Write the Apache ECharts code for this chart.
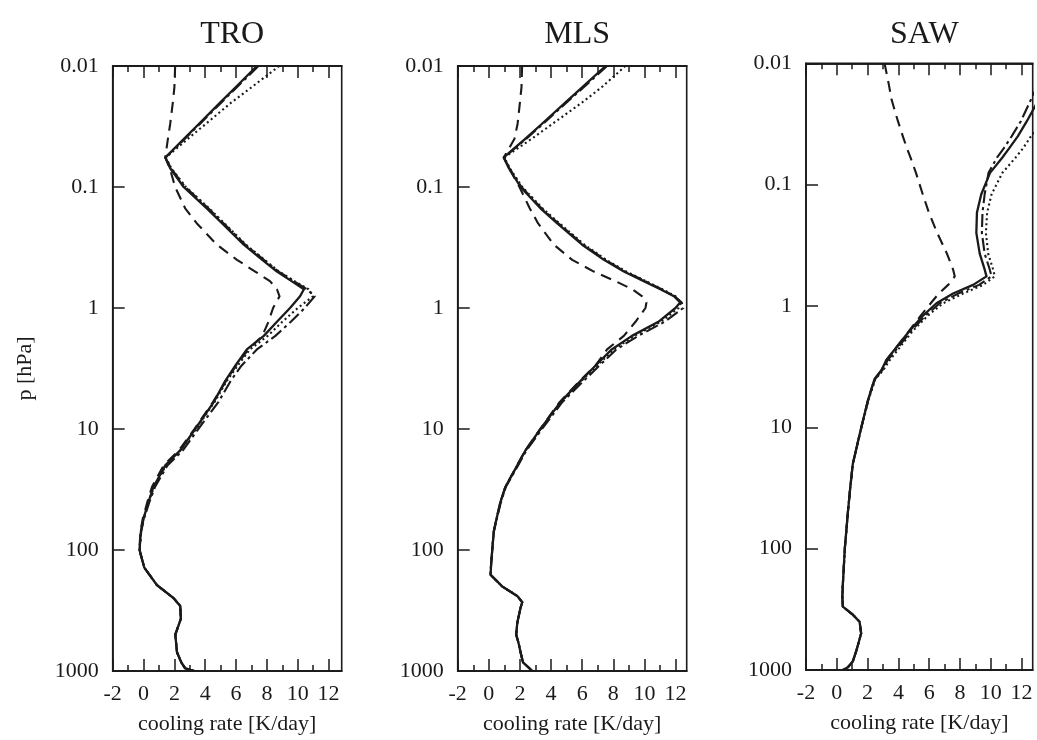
<!DOCTYPE html>
<html><head><meta charset="utf-8">
<script src="https://cdn.jsdelivr.net/npm/echarts@6/dist/echarts.min.js"></script>
<style>html,body{margin:0;padding:0;background:#fff}#c{width:1037px;height:740px}</style>
</head><body><div id="c"></div>
<script>
// ---------- data ----------
const panelNames = ['TRO', 'MLS', 'SAW'];
const xMajorTicks = [-2, 0, 2, 4, 6, 8, 10, 12];
const xMinorTicks = [-1, 1, 3, 5, 7, 9, 11];
const pTickLabels = [0.01, 0.1, 1, 10, 100, 1000];
const xTitle = 'cooling rate [K/day]';
const yTitle = 'p [hPa]';

// TRO
const P_TRO = [0.01, 0.015, 0.02, 0.03, 0.04, 0.057, 0.07, 0.1, 0.15, 0.2, 0.3, 0.4, 0.5, 0.6, 0.7, 0.8, 1, 1.3, 1.7, 2.2, 3, 4, 6, 10, 15, 20, 30, 40, 55, 70, 100, 140, 195, 250, 290, 370, 500, 700, 850, 950, 1000];
const TRO_solid   = [7.35, 5.97, 4.98, 3.6, 2.62, 1.41, 1.73, 2.6, 4.1, 5.1, 6.5, 7.7, 8.65, 9.6, 10.4, 10.15, 9.5, 8.65, 7.8, 6.7, 5.95, 5.3, 4.55, 3.35, 2.38, 1.41, 0.65, 0.32, 0.0, -0.17, -0.26, 0.05, 0.87, 1.95, 2.38, 2.42, 2.06, 2.17, 2.45, 2.7, 3.3];
const TRO_dotted  = [8.8, 7.0, 5.7, 4.05, 2.87, 1.45, 1.8, 2.75, 4.25, 5.25, 6.65, 7.85, 8.8, 9.8, 10.7, 11.0, 10.0, 9.0, 8.05, 6.9, 6.1, 5.4, 4.6, 3.4, 2.4, 1.45, 0.68, 0.33, 0.0, -0.17, -0.26, 0.05, 0.87, 1.95, 2.38, 2.42, 2.06, 2.17, 2.45, 2.7, 3.3];
const TRO_dashed  = [2.05, 2.0, 1.9, 1.73, 1.58, 1.41, 1.7, 2.05, 2.7, 3.46, 4.76, 6.06, 7.24, 8.2, 8.65, 8.82, 8.4, 8.1, 7.7, 6.8, 6.0, 5.35, 4.5, 3.3, 2.3, 1.3, 0.55, 0.25, -0.05, -0.2, -0.27, 0.05, 0.87, 1.95, 2.38, 2.42, 2.06, 2.17, 2.45, 2.7, 3.3];
const TRO_dashdot = [7.45, 6.05, 5.05, 3.67, 2.68, 1.42, 1.78, 2.7, 4.2, 5.2, 6.6, 7.8, 8.75, 9.75, 10.6, 11.1, 10.45, 9.55, 8.55, 7.35, 6.35, 5.65, 4.85, 3.55, 2.55, 1.55, 0.75, 0.38, 0.03, -0.15, -0.25, 0.05, 0.87, 1.95, 2.38, 2.42, 2.06, 2.17, 2.45, 2.7, 3.3];

// MLS
const P_MLS = [0.01, 0.015, 0.02, 0.03, 0.04, 0.057, 0.07, 0.1, 0.15, 0.2, 0.3, 0.4, 0.5, 0.6, 0.7, 0.8, 0.9, 1, 1.3, 1.7, 2.2, 3, 4, 6, 10, 15, 20, 30, 40, 55, 70, 100, 130, 160, 200, 240, 270, 300, 400, 500, 600, 700, 850, 1000];
const MLS_solid   = [7.5, 6.0, 4.93, 3.42, 2.34, 0.96, 1.29, 2.04, 3.32, 4.4, 6.0, 7.4, 8.68, 9.96, 11.03, 11.9, 12.3, 12.0, 10.9, 9.2, 7.9, 6.85, 5.9, 4.6, 3.32, 2.36, 1.83, 1.07, 0.75, 0.5, 0.32, 0.22, 0.15, 0.11, 0.86, 1.83, 2.15, 2.04, 1.83, 1.76, 1.93, 2.04, 2.2, 2.8];
const MLS_dotted  = [8.78, 7.25, 6.0, 4.1, 2.75, 1.0, 1.35, 2.15, 3.45, 4.55, 6.15, 7.55, 8.85, 10.1, 11.15, 12.0, 12.35, 12.2, 11.05, 9.35, 8.05, 6.95, 5.95, 4.62, 3.33, 2.36, 1.83, 1.07, 0.75, 0.5, 0.32, 0.22, 0.15, 0.11, 0.86, 1.83, 2.15, 2.04, 1.83, 1.76, 1.93, 2.04, 2.2, 2.8];
const MLS_dashed  = [2.14, 2.1, 2.0, 1.85, 1.65, 0.96, 1.3, 1.97, 2.63, 3.17, 4.18, 5.36, 6.75, 8.14, 9.22, 9.86, 10.13, 10.07, 9.43, 8.68, 7.6, 6.85, 5.85, 4.55, 3.3, 2.35, 1.82, 1.07, 0.75, 0.5, 0.32, 0.22, 0.15, 0.11, 0.86, 1.83, 2.15, 2.04, 1.83, 1.76, 1.93, 2.04, 2.2, 2.8];
const MLS_dashdot = [7.6, 6.1, 5.0, 3.5, 2.4, 0.98, 1.32, 2.1, 3.38, 4.48, 6.08, 7.48, 8.76, 10.05, 11.1, 11.95, 12.4, 12.5, 11.3, 9.6, 8.2, 7.1, 6.1, 4.72, 3.42, 2.42, 1.88, 1.1, 0.78, 0.52, 0.33, 0.22, 0.15, 0.11, 0.86, 1.83, 2.15, 2.04, 1.83, 1.76, 1.93, 2.04, 2.2, 2.8];

// SAW
const P_SAW = [0.01, 0.015, 0.02, 0.03, 0.04, 0.05, 0.06, 0.08, 0.12, 0.17, 0.25, 0.37, 0.5, 0.57, 0.67, 0.79, 0.95, 1.2, 1.6, 2.2, 2.8, 3.4, 4, 6, 10, 20, 30, 50, 100, 200, 250, 300, 350, 400, 500, 700, 850, 950, 1000];
const SAW_solid   = [14.4, 13.7, 13.1, 12.34, 11.75, 11.2, 10.74, 9.95, 9.38, 9.1, 9.06, 9.28, 9.6, 9.72, 8.85, 7.55, 6.47, 5.6, 4.73, 3.86, 3.21, 2.89, 2.45, 2.02, 1.59, 1.04, 0.89, 0.72, 0.52, 0.39, 0.36, 0.39, 1.04, 1.48, 1.58, 1.26, 1.04, 0.72, 0.39];
const SAW_dotted  = [16.0, 15.2, 14.5, 13.4, 12.6, 12.1, 11.6, 10.75, 10.05, 9.76, 9.68, 9.83, 10.15, 10.26, 9.5, 8.2, 6.9, 5.92, 4.94, 4.08, 3.43, 3.0, 2.5, 2.05, 1.6, 1.04, 0.89, 0.72, 0.52, 0.39, 0.36, 0.39, 1.04, 1.48, 1.58, 1.26, 1.04, 0.72, 0.39];
const SAW_dashed  = [3.1, 3.38, 3.56, 3.97, 4.29, 4.55, 4.79, 5.14, 5.58, 5.98, 6.52, 7.15, 7.55, 7.66, 7.23, 6.62, 6.1, 5.45, 4.7, 3.86, 3.21, 2.89, 2.45, 2.02, 1.59, 1.04, 0.89, 0.72, 0.52, 0.39, 0.36, 0.39, 1.04, 1.48, 1.58, 1.26, 1.04, 0.72, 0.39];
const SAW_dashdot = [13.9, 13.05, 12.6, 11.95, 11.35, 10.85, 10.4, 9.85, 9.6, 9.46, 9.42, 9.6, 9.93, 10.05, 9.24, 7.88, 6.68, 5.77, 4.84, 3.97, 3.3, 2.95, 2.48, 2.03, 1.6, 1.04, 0.89, 0.72, 0.52, 0.39, 0.36, 0.39, 1.04, 1.48, 1.58, 1.26, 1.04, 0.72, 0.39];

// ---------- chart ----------
const FONT = '"Liberation Serif", "Times New Roman", serif';
const INK = '#1a1a1a';
const panels = [
  { p: P_TRO, s: [TRO_solid, TRO_dotted, TRO_dashed, TRO_dashdot] },
  { p: P_MLS, s: [MLS_solid, MLS_dotted, MLS_dashed, MLS_dashdot] },
  { p: P_SAW, s: [SAW_solid, SAW_dotted, SAW_dashed, SAW_dashdot] }
];
const layout = [
  { left: 112.7, top: 66, width: 229, height: 607, xmax: 12.85 },
  { left: 457.7, top: 66, width: 229, height: 606, xmax: 12.72 },
  { left: 806, top: 63.3, width: 226.7, height: 606.7, xmax: 12.72 }
];
const styles = [
  { type: 'solid', width: 2.3 },
  { type: [2, 3], width: 2.1 },
  { type: [11, 7], width: 2.1 },
  { type: [13, 4, 3, 4], width: 2.1 }
];

const grid = [], xAxis = [], yAxis = [], series = [], title = [];
layout.forEach((g, i) => {
  grid.push({ left: g.left, top: g.top, width: g.width, height: g.height, show: true,
    borderColor: INK, borderWidth: 1.6, backgroundColor: 'transparent' });
  title.push({ text: panelNames[i], left: g.left + g.width / 2, top: 14, textAlign: 'center',
    textStyle: { fontFamily: FONT, fontSize: 32, fontWeight: 'normal', color: INK } });
  const base = { type: 'value', gridIndex: i, min: -2, max: g.xmax, splitLine: { show: false },
    axisLine: { show: true, onZero: false, lineStyle: { color: INK, width: 1.6 } } };
  // bottom major
  xAxis.push(Object.assign({}, base, { position: 'bottom',
    name: xTitle, nameLocation: 'middle', nameGap: 42,
    nameTextStyle: { fontFamily: FONT, fontSize: 22, color: INK },
    axisTick: { show: true, inside: true, length: 12, customValues: xMajorTicks, lineStyle: { color: INK, width: 1.5 } },
    axisLabel: { show: true, customValues: xMajorTicks, margin: 12, fontFamily: FONT, fontSize: 22, color: INK } }));
  // bottom minor
  xAxis.push(Object.assign({}, base, { position: 'bottom',
    axisTick: { show: true, inside: true, length: 6, customValues: xMinorTicks, lineStyle: { color: INK, width: 1.5 } },
    axisLabel: { show: false } }));
  // top major
  xAxis.push(Object.assign({}, base, { position: 'top',
    axisTick: { show: true, inside: true, length: 12, customValues: xMajorTicks, lineStyle: { color: INK, width: 1.5 } },
    axisLabel: { show: false } }));
  // top minor
  xAxis.push(Object.assign({}, base, { position: 'top',
    axisTick: { show: true, inside: true, length: 6, customValues: xMinorTicks, lineStyle: { color: INK, width: 1.5 } },
    axisLabel: { show: false } }));
  yAxis.push({ type: 'log', logBase: 10, gridIndex: i, min: 0.01, max: 1000, inverse: true,
    position: 'left', splitLine: { show: false },
    axisLine: { show: true, onZero: false, lineStyle: { color: INK, width: 1.6 } },
    axisTick: { show: true, inside: true, length: 12, customValues: pTickLabels, lineStyle: { color: INK, width: 1.5 } },
    axisLabel: { show: true, customValues: pTickLabels, margin: 14, fontFamily: FONT, fontSize: 22, color: INK,
      formatter: v => String(parseFloat(Number(v).toPrecision(3))) },
    name: i === 0 ? yTitle : '', nameLocation: 'middle', nameGap: 76, nameRotate: 90,
    nameTextStyle: { fontFamily: FONT, fontSize: 22, color: INK } });
  const P = panels[i].p;
  panels[i].s.forEach((vals, k) => {
    series.push({ type: 'line', xAxisIndex: 4 * i, yAxisIndex: i, symbol: 'none', clip: true,
      z: 10 - k, animation: false,
      lineStyle: { color: INK, width: styles[k].width, type: styles[k].type, cap: 'butt', join: 'round' },
      data: vals.map((v, j) => [v, P[j]]) });
  });
});

const chart = echarts.init(document.getElementById('c'), null, { renderer: 'canvas' });
chart.setOption({ backgroundColor: '#fff', animation: false, title, grid, xAxis, yAxis, series });
</script>
</body></html>
